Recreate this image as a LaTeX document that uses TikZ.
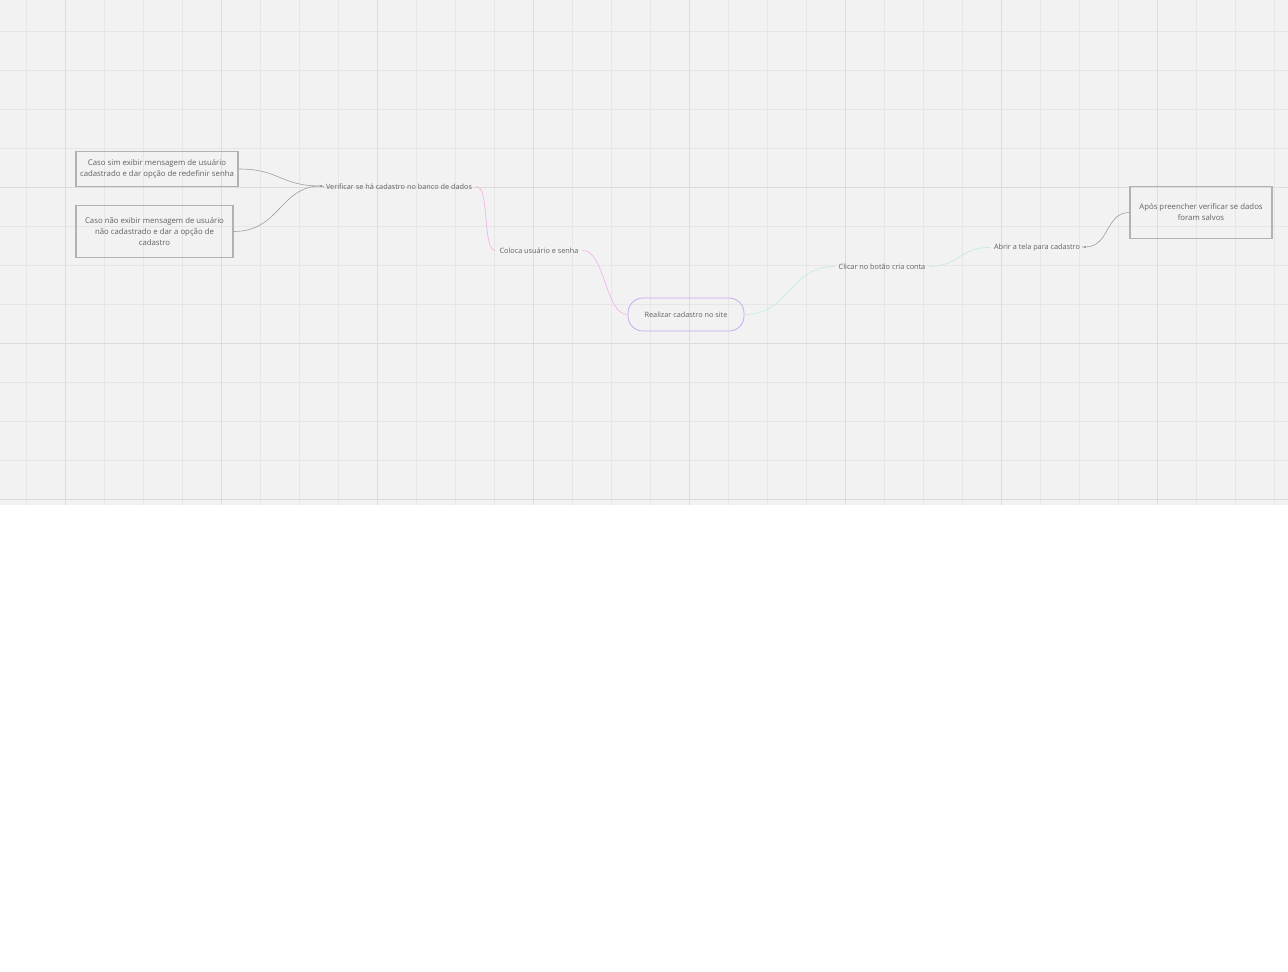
\documentclass[tikz,border=0pt]{standalone}
\usepackage{fontspec}
\setmainfont{Open Sans}
\begin{document}
\begin{tikzpicture}[x=1pt,y=-1pt,
  lbl/.style={inner sep=1pt, text=black!62, font=\fontsize{7.3}{9}\selectfont},
  boxn/.style={draw=black!30, line width=1.3pt, align=center, text=black!62, font=\fontsize{7.8}{11}\selectfont, inner sep=0pt},
  pinkc/.style={draw=pinkline, line width=0.7pt},
  mintc/.style={draw=mintline, line width=0.7pt},
  grayc/.style={draw=black!38, line width=0.6pt}]
\definecolor{bgc}{HTML}{F2F2F2}
\definecolor{gridminor}{HTML}{E6E6E6}
\definecolor{gridmajor}{HTML}{DCDCDC}
\definecolor{pinkline}{HTML}{F5B5EA}
\definecolor{mintline}{HTML}{C4EDE1}
\definecolor{purp}{HTML}{CBA8F5}
\useasboundingbox (0,0) rectangle (1288,972);
\fill[white] (0,0) rectangle (1288,972);
\fill[bgc] (0,0) rectangle (1288,505);
% grid
\foreach \i in {0,...,32} {
  \pgfmathsetmacro{\xx}{26+39*\i}
  \draw[gridminor, line width=0.7pt] (\xx,0) -- (\xx,505);
}
\foreach \i in {0,...,12} {
  \pgfmathsetmacro{\yy}{31+39*\i}
  \draw[gridminor, line width=0.7pt] (0,\yy) -- (1288,\yy);
}
\foreach \xx in {65,221,377,533,689,845,1001,1157} {
  \draw[gridmajor, line width=0.8pt] (\xx,0) -- (\xx,505);
}
\foreach \yy in {187,343,499} {
  \draw[gridmajor, line width=0.8pt] (0,\yy) -- (1288,\yy);
}
% nodes
\node[boxn, minimum width=162, minimum height=35] (b1) at (157,169) {Caso sim exibir mensagem de usuário\\cadastrado e dar opção de redefinir senha};
\node[boxn, minimum width=157, minimum height=52] (b2) at (154.5,231.5) {Caso não exibir mensagem de usuário\\não cadastrado e dar a opção de\\cadastro};
\node[boxn, minimum width=142, minimum height=52] (b3) at (1201,212.5) {Após preencher verificar se dados\\foram salvos};
\node[lbl] (ver) at (399,186.5) {Verificar se há cadastro no banco de dados};
\node[lbl] (col) at (539,250.5) {Coloca usuário e senha};
\node[draw=purp, line width=0.8pt, rounded corners=15pt, minimum width=116, minimum height=33, text=black!62, font=\fontsize{7.3}{9}\selectfont] (real) at (686,314.5) {Realizar cadastro no site};
\node[lbl] (cli) at (882,266.5) {Clicar no botão cria conta};
\node[lbl] (abr) at (1037,247.5) {Abrir a tela para cadastro};
\coordinate (d1) at (321,186);
\coordinate (d2) at (1085,247);
\fill[black!55] (d1) circle (1);
\fill[black!55] (d2) circle (1);
% connectors
\draw[grayc] (b1.east) .. controls (280,169) and (280,186) .. (d1) -- ([xshift=-1]ver.west);
\draw[grayc] (b2.east) .. controls (280,231.5) and (280,186) .. (d1);
\draw[pinkc] ([xshift=3]ver.east) .. controls (490,186) and (482,250) .. ([xshift=-3]col.west);
\draw[pinkc] ([xshift=3]col.east) .. controls (605,250) and (605,314.5) .. (real.west);
\draw[mintc] (real.east) .. controls (790,314.5) and (790,266) .. ([xshift=-3]cli.west);
\draw[mintc] ([xshift=3]cli.east) .. controls (960,266) and (960,247) .. ([xshift=-3]abr.west);
\draw[grayc] (d2) -- ([xshift=-3]d2) (d2) .. controls (1110,247) and (1105,212.5) .. (b3.west);
\end{tikzpicture}
\end{document}
